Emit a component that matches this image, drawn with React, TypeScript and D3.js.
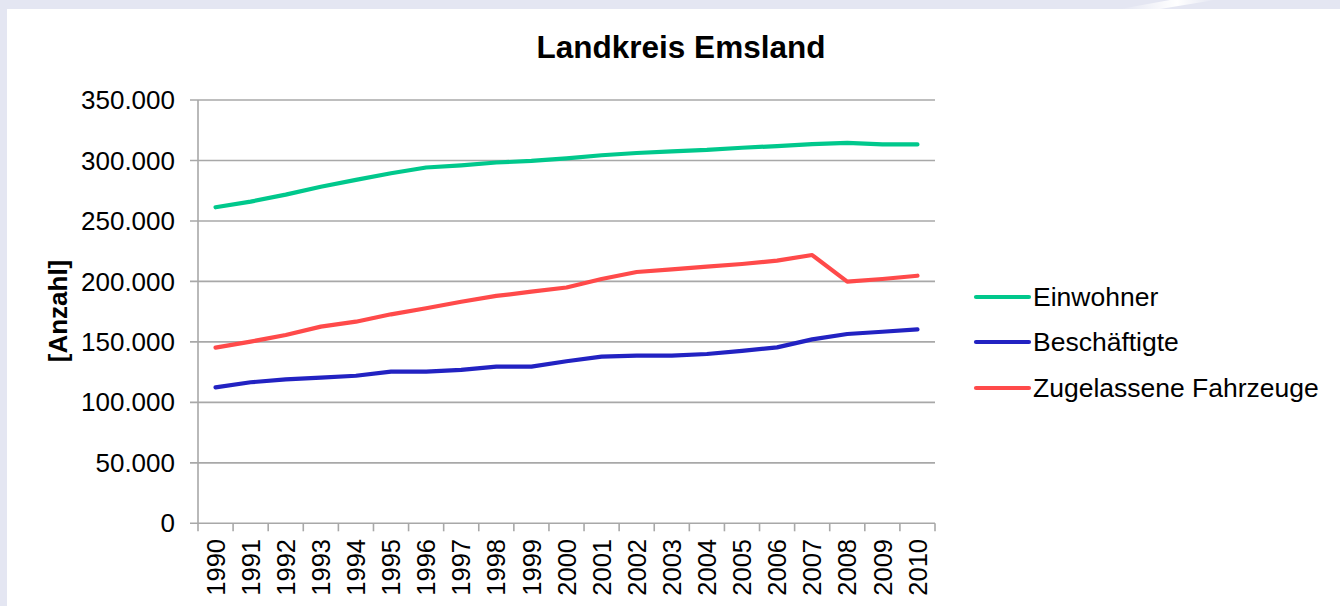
import React from "react";
import * as d3 from "d3";

const years = ["1990","1991","1992","1993","1994","1995","1996","1997","1998","1999","2000","2001","2002","2003","2004","2005","2006","2007","2008","2009","2010"];
const einwohner = [261300, 266000, 271800, 278300, 284000, 289400, 294200, 296000, 298300, 299600, 301800, 304300, 306200, 307600, 308700, 310500, 311900, 313500, 314600, 313300, 313300];
const beschaeftigte = [112400, 116600, 119000, 120400, 122000, 125400, 125400, 126800, 129500, 129500, 134000, 137800, 138600, 138600, 140000, 142500, 145500, 152100, 156500, 158400, 160400];
const fahrzeuge = [145200, 150200, 155700, 162600, 166700, 172800, 177800, 183200, 188000, 191500, 195000, 202000, 207800, 210000, 212200, 214400, 217200, 221800, 199800, 202000, 204700];
const yTicks = [0, 50000, 100000, 150000, 200000, 250000, 300000, 350000];
const seriesNames = ["Einwohner", "Beschäftigte", "Zugelassene Fahrzeuge"];
const seriesColors = ["#00c88c", "#2222c2", "#ff4a4a"];

const W = 1340, H = 606;
const left = 198, right = 935, top = 100, bottom = 523.3;
const font = "'Liberation Sans', Arial, sans-serif";

export default function App() {
  const x = d3.scaleBand<string>().domain(years).range([left, right]).padding(0);
  const y = d3.scaleLinear().domain([0, 350000]).range([bottom, top]);
  const fmt = (v: number) => (v === 0 ? "0" : d3.format(",")(v).replace(/,/g, "."));
  const line = d3.line<number>()
    .x((_, i) => (x(years[i]) as number) + x.bandwidth() / 2)
    .y((d) => y(d))
    .curve(d3.curveLinear);
  const series = [einwohner, beschaeftigte, fahrzeuge];
  const legendY = [297, 342, 388];
  const grid = "#a8a8a8";
  return (
    <svg width={W} height={H} style={{ position: "absolute", left: 0, top: 0 }} fontFamily={font}>
      <defs>
        <linearGradient id="sw" x1="0" y1="0" x2="1" y2="0">
          <stop offset="0" stopColor="#ffffff" stopOpacity="0" />
          <stop offset="0.6" stopColor="#ffffff" stopOpacity="1" />
          <stop offset="1" stopColor="#ffffff" stopOpacity="0" />
        </linearGradient>
      </defs>
      <rect x={0} y={0} width={W} height={H} fill="#e4e6f2" />
      <polygon points="1120,9 1160,9 1215,0 1170,0" fill="url(#sw)" />
      <rect x={7} y={9} width={W - 7} height={H - 9} fill="#ffffff" />
      <text x={681} y={58} textAnchor="middle" fontSize={31.5} fontWeight="bold" fill="#000">Landkreis Emsland</text>
      {yTicks.map((t) => (
        <g key={t}>
          <line x1={190} x2={right} y1={y(t)} y2={y(t)} stroke={grid} strokeWidth={1.6} />
          <text x={175} y={y(t)} dy="0.35em" textAnchor="end" fontSize={26} fill="#000">{fmt(t)}</text>
        </g>
      ))}
      <line x1={left} x2={left} y1={top} y2={bottom + 8} stroke={grid} strokeWidth={1.6} />
      {years.map((yr) => (
        <line key={"t" + yr} x1={(x(yr) as number) + x.bandwidth()} x2={(x(yr) as number) + x.bandwidth()} y1={bottom} y2={bottom + 8} stroke={grid} strokeWidth={1.6} />
      ))}
      {years.map((yr) => {
        const cx = (x(yr) as number) + x.bandwidth() / 2;
        return (
          <text key={"l" + yr} transform={`translate(${cx},${539}) rotate(-90)`} dy="0.36em" textAnchor="end" fontSize={25.5} fill="#000">{yr}</text>
        );
      })}
      <text transform={`translate(58,311) rotate(-90)`} dy="0.35em" textAnchor="middle" fontSize={26} fontWeight="bold" fill="#000">[Anzahl]</text>
      {series.map((s, k) => (
        <path key={"s" + k} d={line(s) as string} fill="none" stroke={seriesColors[k]} strokeWidth={4.2} strokeLinecap="round" strokeLinejoin="round" />
      ))}
      {seriesNames.map((n, k) => (
        <g key={"lg" + k}>
          <line x1={976} x2={1029} y1={legendY[k]} y2={legendY[k]} stroke={seriesColors[k]} strokeWidth={4.2} strokeLinecap="round" />
          <text x={1033} y={legendY[k]} dy="0.35em" fontSize={26.5} fill="#000">{n}</text>
        </g>
      ))}
    </svg>
  );
}
